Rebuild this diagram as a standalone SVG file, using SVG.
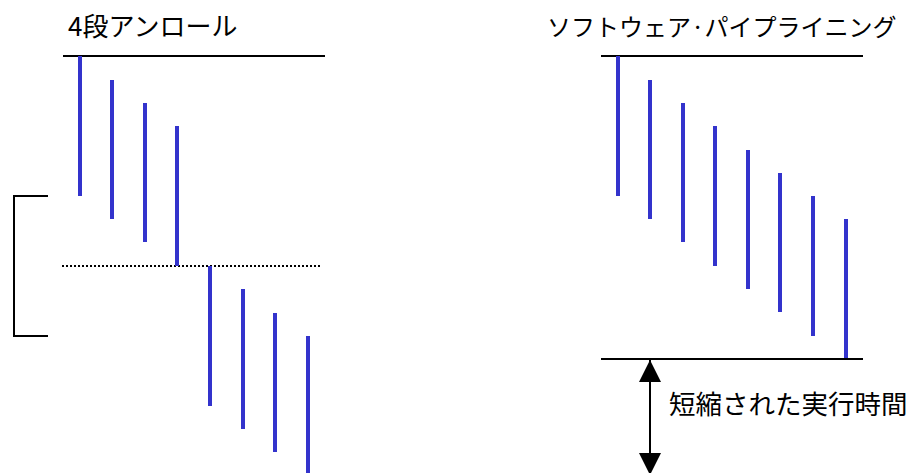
<svg xmlns="http://www.w3.org/2000/svg" width="915" height="473" viewBox="0 0 915 473">
<defs>
<style>
.t{font-family:"Noto Sans CJK JP","Noto Sans",sans-serif;fill:#000}
.bar{stroke:#3333cc;stroke-width:4}
.ln{stroke:#000;stroke-width:2;fill:none}
.dot{stroke:#000;stroke-width:2;stroke-dasharray:2 2}
</style>
<marker id="ah" viewBox="0 0 22 22" refX="22" refY="11" markerWidth="22" markerHeight="22" markerUnits="userSpaceOnUse" orient="auto-start-reverse">
<path d="M0,0 L22,11 L0,22 Z" fill="#000"/>
</marker>
</defs>
<g id="title-left"><text class="t" x="68" y="36" font-size="26">4段アンロール</text></g>
<g id="title-right"><text class="t" x="547" y="36" font-size="24">ソフトウェア·パイプライニング</text></g>
<g id="label-time"><text class="t" x="669" y="414" font-size="26.5">短縮された実行時間</text></g>
<g id="unroll">
<line class="ln" x1="63" y1="56" x2="325" y2="56"/>
<line class="dot" x1="62" y1="266" x2="322" y2="266"/>
<polyline class="ln" points="48,196 14,196 14,336 48,336"/>
<line class="bar" x1="80" y1="56" x2="80" y2="196"/>
<line class="bar" x1="112" y1="80" x2="112" y2="219"/>
<line class="bar" x1="145" y1="103" x2="145" y2="242"/>
<line class="bar" x1="177" y1="126" x2="177" y2="266"/>
<line class="bar" x1="210" y1="266" x2="210" y2="406"/>
<line class="bar" x1="243" y1="289" x2="243" y2="429"/>
<line class="bar" x1="275" y1="313" x2="275" y2="452"/>
<line class="bar" x1="308" y1="336" x2="308" y2="474"/>
</g>
<g id="pipeline">
<line class="ln" x1="601" y1="56" x2="863" y2="56"/>
<line class="ln" x1="601" y1="359" x2="863" y2="359"/>
<line class="bar" x1="618" y1="56" x2="618" y2="196"/>
<line class="bar" x1="650" y1="80" x2="650" y2="219"/>
<line class="bar" x1="683" y1="103" x2="683" y2="242"/>
<line class="bar" x1="715" y1="126" x2="715" y2="266"/>
<line class="bar" x1="748" y1="150" x2="748" y2="289"/>
<line class="bar" x1="780" y1="173" x2="780" y2="312"/>
<line class="bar" x1="813" y1="196" x2="813" y2="336"/>
<line class="bar" x1="846" y1="219" x2="846" y2="358"/>
</g>
<g id="connectors">
<line class="ln" x1="650" y1="360" x2="650" y2="475" marker-start="url(#ah)" marker-end="url(#ah)"/>
</g>
</svg>
